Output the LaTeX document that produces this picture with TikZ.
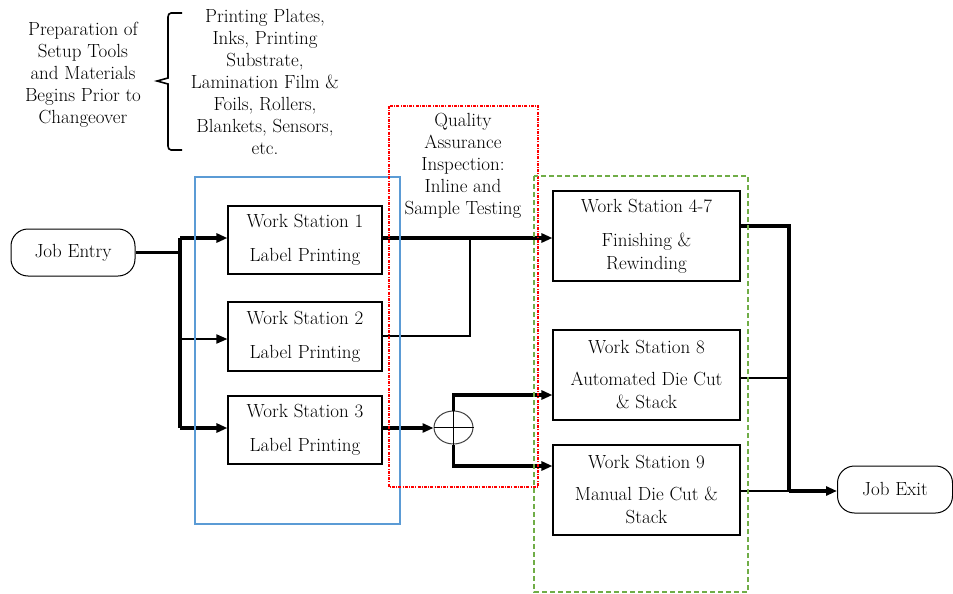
\documentclass[tikz,border=0pt]{standalone}
\usepackage{fontspec}
\setmainfont{Latin Modern Roman}
\usetikzlibrary{arrows.meta,shapes.geometric,calc}
\begin{document}
\begin{tikzpicture}[x=1pt,y=-1pt,
  txt/.style={font=\fontsize{19}{22}\selectfont, align=center, inner sep=0pt},
  wbox/.style={draw, line width=1.1pt, align=center, inner sep=0pt, font=\fontsize{19}{23}\selectfont},
  term/.style={draw, line width=1pt, rounded corners=17pt, inner sep=0pt, font=\fontsize{19}{22}\selectfont},
  thk/.style={line width=3.4pt},
  thn/.style={line width=1.8pt},
  arr/.style={-{Triangle[length=11pt,width=9pt]}},
  blueb/.style={draw={rgb,255:red,91;green,155;blue,213}, line width=1.6pt},
  redb/.style={draw=red, line width=1.6pt, dash pattern=on 3pt off 1.2pt on 1pt off 1.2pt},
  greenb/.style={draw={rgb,255:red,112;green,173;blue,71}, line width=1.8pt, dash pattern=on 5pt off 3pt}
]
\useasboundingbox (0,0) rectangle (953,594);

% top texts
\node[txt] (prep) at (83,75) {Preparation of\\Setup Tools\\and Materials\\Begins Prior to\\Changeover};
\node[txt] (mats) at (265,82) {Printing Plates,\\Inks, Printing\\Substrate,\\Lamination Film \&\\Foils, Rollers,\\Blankets, Sensors,\\etc.};
\draw[line width=1.6pt] (182,13) -- (171,13) to[out=180,in=90] (168,17) -- (168,78) -- (157,81) -- (168,84) -- (168,146) to[out=-90,in=180] (171,150) -- (182,150);

% group label
\node[txt] (qa) at (463,166) {Quality\\Assurance\\Inspection:\\Inline and\\Sample Testing};

% nodes
\node[term, minimum width=124pt, minimum height=47pt] (entry) at (73,252.5) {Job Entry};
\node[wbox, minimum width=154pt, minimum height=68pt] (ws1) at (305,240) {Work Station 1\\[11pt]Label Printing};
\node[wbox, minimum width=154pt, minimum height=69pt] (ws2) at (305,336.5) {Work Station 2\\[11pt]Label Printing};
\node[wbox, minimum width=154pt, minimum height=68pt] (ws3) at (305,430) {Work Station 3\\[11pt]Label Printing};
\node[wbox, minimum width=187pt, minimum height=90pt] (ws47) at (646.5,236) {Work Station 4-7\\[11pt]Finishing \&\\Rewinding};
\node[wbox, minimum width=187pt, minimum height=90pt] (ws8) at (646.5,375) {Work Station 8\\[9pt]Automated Die Cut\\\& Stack};
\node[wbox, minimum width=187pt, minimum height=90pt] (ws9) at (646.5,490) {Work Station 9\\[9pt]Manual Die Cut \&\\Stack};
\node[term, minimum width=115pt, minimum height=47pt] (exit) at (895,489.5) {Job Exit};
\node[ellipse, draw=black!75, line width=1pt, minimum width=39pt, minimum height=33pt, inner sep=0pt] (sum) at (453.5,427.5) {};
\draw[line width=0.9pt] (sum.north) -- (sum.south) (sum.west) -- (sum.east);

% coordinates
\coordinate (j) at (180,252.5);
\coordinate (t1) at (180,238);
\coordinate (t2) at (180,339);
\coordinate (t3) at (180,428);
\coordinate (m) at (470,238);
\coordinate (u) at (453.5,395);
\coordinate (d) at (453.5,466);
\coordinate (c1) at (789,226);
\coordinate (c2) at (789,378);
\coordinate (c3) at (789,491);

% connectors
\draw[thk] (entry.east |- j) -- (j);
\draw[thk] (t1) -- (t3);
\draw[thk,arr] (t1) -- (t1 -| ws1.west);
\draw[thn,arr] (t2) -- (t2 -| ws2.west);
\draw[thk,arr] (t3) -- (t3 -| ws3.west);
\draw[thk,arr] (ws1.east |- t1) -- (ws47.west |- t1);
\draw[thn] (ws2.east |- 0,336) -- (m |- 0,336) -- (m);
\draw[thk,arr] (ws3.east |- t3) -- (sum.west |- t3);
\draw[thk,arr] (sum.north) -- (u) -- (u -| ws8.west);
\draw[thk,arr] (sum.south) -- (d) -- (d -| ws9.west);
\draw[thk] (ws47.east |- c1) -- (c1) -- (c3);
\draw[thn] (ws8.east |- c2) -- (c2);
\draw[line width=2.6pt] (ws9.east |- c3) -- (c3);
\draw[thk,arr] (c3) -- (exit.west |- c3);

% group frames
\draw[blueb] (195,177) rectangle (400,524);
\draw[redb] (389,106) rectangle (538,487);
\draw[greenb] (534,176) rectangle (748,592);
\end{tikzpicture}
\end{document}
